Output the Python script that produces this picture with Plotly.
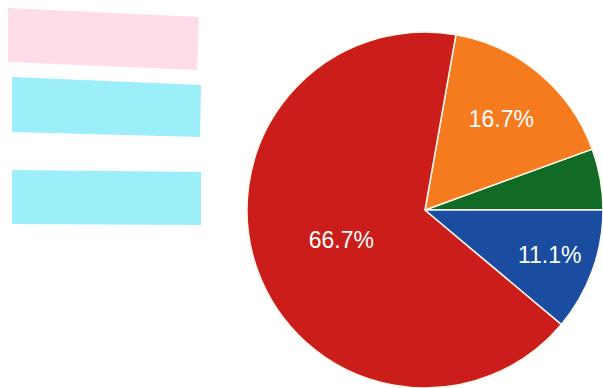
import plotly.graph_objects as go

# Data (counterclockwise from 3 o'clock)
labels = ["Green", "Orange", "Red", "Blue"]
values = [1, 3, 12, 2]
shown_text = ["", "16.7%", "66.7%", "11.1%"]
colors = ["#116b25", "#f57b1f", "#cb1e1a", "#1a4da0"]

W, H = 603, 388
cx, cy, R = 425, 210, 178

fig = go.Figure(go.Pie(
    labels=labels,
    values=values,
    sort=False,
    direction="counterclockwise",
    rotation=70,
    text=shown_text,
    textinfo="text",
    textposition="inside",
    insidetextorientation="horizontal",
    textfont=dict(family="Liberation Sans, Arial, sans-serif", size=23, color="white"),
    marker=dict(colors=colors, line=dict(color="#fdf6ea", width=1.5)),
    showlegend=False,
    hoverinfo="label+percent",
    domain=dict(x=[(cx - R) / W, (cx + R) / W], y=[(H - cy - R) / H, (H - cy + R) / H]),
))

def quad(pts, color):
    path = "M " + " L ".join(f"{x / W:.4f},{1 - y / H:.4f}" for x, y in pts) + " Z"
    return dict(type="path", xref="paper", yref="paper", path=path,
                fillcolor=color, line=dict(width=0), layer="above")

fig.update_layout(
    width=W, height=H,
    margin=dict(l=0, r=0, t=0, b=0),
    paper_bgcolor="white",
    plot_bgcolor="white",
    shapes=[
        quad([(8, 8), (199, 17), (197, 70), (8, 62)], "#fedce9"),
        quad([(12, 77), (201, 85), (200, 137), (12, 132)], "#9ceef9"),
        quad([(12, 170), (201, 172), (201, 225), (12, 224)], "#9ceef9"),
    ],
)

fig.write_html(
    "out.html",
    config={"displayModeBar": False},
    post_script="document.body.style.margin='0';document.body.style.overflow='hidden';",
)
